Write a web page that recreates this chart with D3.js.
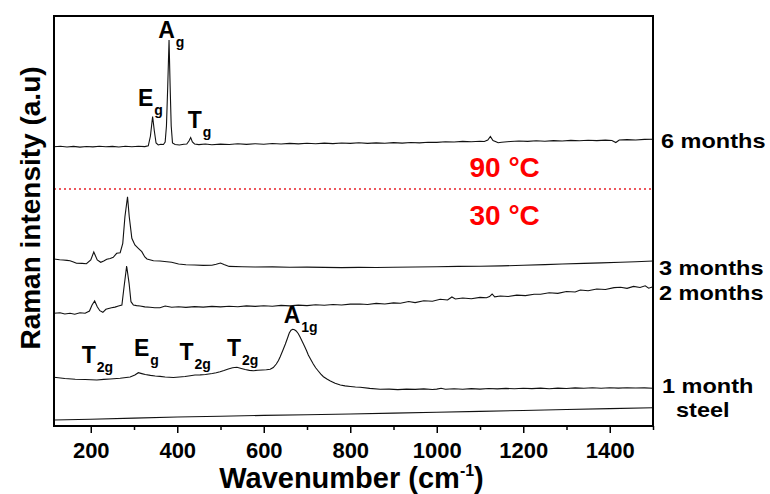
<!DOCTYPE html>
<html>
<head>
<meta charset="utf-8">
<script src="https://cdn.jsdelivr.net/npm/d3@7"></script>
<style>
body { margin: 0; background: #fff; }
text { font-family: "Liberation Sans", Arial, sans-serif; font-weight: bold; }
.line { fill: none; stroke: #111; stroke-width: 1.1; }
</style>
</head>
<body>
<div id="chart"></div>
<script>
// spectra, [wavenumber, intensity (a.u., stacked offsets)]
var sixMonths = [[115,279.3],[130,279.8],[145,279.0],[160,279.6],[175,278.9],[190,279.5],[205,279.1],[220,279.8],[235,279.2],[250,279.6],[265,279.0],[280,279.7],[295,279.3],[310,279.8],[325,279.4],[333,280.2],[338,290],[343,309.5],[347,295],[351,283],[356,281],[362,281.8],[368,281.5],[372,284],[375,300],[378,340],[381,386],[383.5,340],[386,300],[389,283],[395,281.5],[405,281.0],[415,281.8],[422,282],[427,285],[431,288.5],[435,284],[440,282],[450,281.4],[465,282.0],[480,281.3],[500,281.9],[520,281.5],[540,282.2],[560,281.6],[580,282.3],[600,281.8],[620,282.5],[640,282.0],[660,282.6],[680,282.1],[700,282.7],[720,282.2],[740,282.9],[760,282.4],[780,283.0],[800,282.6],[820,283.2],[840,282.6],[860,283.1],[880,282.7],[900,283.4],[920,282.9],[940,283.5],[960,283.1],[980,283.8],[1000,283.6],[1020,284.3],[1040,284.0],[1060,284.6],[1080,284.3],[1100,284.8],[1110,284.5],[1118,286],[1124,289.5],[1130,285.5],[1137,284.2],[1142,283.2],[1150,283.8],[1170,284.5],[1190,285.0],[1210,284.6],[1230,285.2],[1250,284.8],[1270,285.4],[1290,285.0],[1310,285.6],[1330,285.2],[1350,285.8],[1370,285.4],[1390,285.9],[1405,285.5],[1414,283.5],[1422,286.0],[1440,286.4],[1460,286.0],[1480,286.6],[1500,286.7]];

var threeMonths = [[115,167],[128,166.3],[136,166],[145,165.6],[152,165.3],[160,164],[167,162.7],[180,162.6],[190,162.3],[200,166],[207,174],[215,166],[223,163.7],[230,165],[237,166.7],[245,167.5],[252,168.7],[260,172.7],[268,173.3],[274,182.7],[279,209.3],[285,229.3],[289,209.3],[295,187.7],[302,181],[310,177.7],[318,174.3],[325,169],[330,167],[345,165.3],[360,165],[376,164.3],[387,163.7],[403,162],[420,161.2],[440,161],[460,160.6],[480,160.8],[490,161.8],[500,163],[508,161.5],[520,159.6],[550,159.3],[580,159],[620,159.1],[660,158.8],[700,158.9],[740,158.6],[780,158.4],[820,158.6],[860,158.5],[900,158.7],[950,159],[1000,159.3],[1050,159.6],[1100,159.8],[1150,160.1],[1200,160.8],[1250,161.4],[1290,162],[1340,162.6],[1380,163.1],[1425,163.7],[1460,164.3],[1500,165]];

var twoMonths = [[115,112.7],[129,113.3],[140,112],[152,112.7],[163,111.7],[175,113.3],[187,112.7],[197,115],[203,121],[209,125],[215,119.3],[221,115.3],[228,113.7],[235,116.7],[248,118.3],[256,118.9],[264,120],[272,121],[277,139.3],[283,160],[288.6,142.7],[293,124.3],[298.6,121],[306,120.4],[314,120],[325,119.1],[337,118.7],[348,118.2],[360,118.3],[372,120],[387,118.7],[403,119.3],[420,118.6],[440,119.4],[460,118.9],[480,119.6],[500,119.1],[520,119.8],[540,119.2],[560,120.1],[580,119.6],[600,120.3],[620,119.8],[640,120.6],[660,120.1],[680,120.9],[700,120.4],[720,121.2],[740,120.7],[760,121.5],[780,121],[800,121.9],[823,122],[840,121.5],[860,122.6],[880,122],[900,123.1],[916,122.7],[935,124.5],[950,123.4],[970,125.3],[990,124.8],[1008,126.7],[1025,126],[1035,129],[1043,127],[1060,128],[1080,127.3],[1100,128.6],[1115,128.2],[1122,129.4],[1128,132],[1134,129.2],[1147,130],[1165,129.5],[1185,130.9],[1205,130.4],[1225,131.8],[1240,131.7],[1260,133.2],[1280,132.6],[1300,134.5],[1320,134],[1332,136],[1350,135.2],[1370,137],[1390,136.5],[1410,138.4],[1425,138.7],[1440,137.6],[1455,139.6],[1470,138.5],[1482,140.2],[1490,137.8],[1500,139.3]];

var oneMonth = [[115,48.7],[140,47.5],[164,46.7],[187,46.5],[214,46],[230,46.6],[245,47],[268,47.7],[291,49],[302,51],[310,53.3],[318,52.4],[326,51.5],[338,50.6],[349,50],[360,49.6],[372,49],[391,48.5],[405,49],[418,49.5],[430,50.3],[441,51],[453,51.1],[465,51.5],[481,52.5],[490,53.2],[499,54.3],[508,55.5],[518,57],[528,58.3],[538,58.7],[548,57.5],[557,56.5],[567,55.6],[576,55.3],[586,55.7],[597,56],[606,56.3],[615,56.7],[622,58.5],[629,62],[634,65.5],[638,69.3],[644,75.5],[650,82],[655,88],[659,93],[663,95.8],[667,96.7],[671,96.3],[675,95],[680,92.3],[684,89],[689,84.6],[694,80],[699,75.3],[703,71],[709,66.2],[714.5,62],[720,58.2],[726,55],[732,51.8],[738,49.3],[746,47],[754,45],[765,42.8],[777,41],[788,40.1],[800,39.5],[812,39],[823,38.7],[845,37.6],[869,36.7],[890,36.9],[910,36.4],[930,36.9],[950,36.6],[970,37.1],[990,36.5],[1000,36.9],[1010,37.8],[1020,36.7],[1040,37.2],[1060,36.8],[1080,37.4],[1100,36.9],[1120,37.5],[1140,37.1],[1160,37.6],[1180,37.2],[1200,37.8],[1220,37.4],[1240,37.9],[1260,37.3],[1280,37.9],[1300,37.5],[1320,38.1],[1340,37.7],[1360,38.2],[1380,37.8],[1400,38.3],[1420,37.9],[1440,38.3],[1460,38],[1480,38.1],[1500,37.7]];

var steel = [[115,6],[200,6.8],[300,7.9],[400,9],[500,9.8],[600,10.6],[700,11.3],[800,12],[900,12.9],[1000,13.8],[1100,14.6],[1200,15.5],[1300,16.5],[1400,17.4],[1500,18.3]];

var series = [sixMonths, threeMonths, twoMonths, oneMonth, steel];

// right-hand sample labels: text, x offset from frame, intensity of baseline
var seriesNames = ["6 months", "3 months", "2 months", "1 month", "steel"];
var nameOffsets = [8, 6, 6, 9, 23];
var nameLevels = [278, 151, 126, 33, 9];

// Raman band labels: [main, subscript, wavenumber, intensity]
var bands = [["A", "g", 356, 388], ["E", "g", 309, 320], ["T", "g", 424, 298.3],
             ["T", "2g", 179, 62.7], ["E", "g", 300, 70], ["T", "2g", 405, 66],
             ["T", "2g", 515, 70], ["A", "1g", 646, 102.7]];

// temperature divider
var dividerLevel = 237;
var tempLabels = [["90 °C", 1157, 249], ["30 °C", 1157, 201]];

var majorTicks = [200, 400, 600, 800, 1000, 1200, 1400];
var minorTicks = [300, 500, 700, 900, 1100, 1300, 1500];

var margin = {top: 16, right: 117, bottom: 68, left: 54},
    width = 770 - margin.left - margin.right,
    height = 494 - margin.top - margin.bottom;

var x = d3.scaleLinear()
    .domain([115, 1500])
    .range([0, width]);

var y = d3.scaleLinear()
    .domain([0, 410])
    .range([height, 0]);

var svg = d3.select("#chart").append("svg")
    .attr("width", width + margin.left + margin.right)
    .attr("height", height + margin.top + margin.bottom)
  .append("g")
    .attr("transform", "translate(" + margin.left + "," + margin.top + ")");

var line = d3.line()
    .x(function(d) { return x(d[0]); })
    .y(function(d) { return y(d[1]); });

svg.selectAll(".line")
    .data(series)
  .enter().append("path")
    .attr("class", "line")
    .attr("d", line);

// red dotted divider
svg.append("line")
    .attr("x1", 0)
    .attr("x2", width)
    .attr("y1", y(dividerLevel))
    .attr("y2", y(dividerLevel))
    .attr("stroke", "#e8202a")
    .attr("stroke-width", 1.3)
    .attr("stroke-dasharray", "2,3");

svg.selectAll(".temp")
    .data(tempLabels)
  .enter().append("text")
    .attr("class", "temp")
    .attr("x", function(d) { return x(d[1]); })
    .attr("y", function(d) { return y(d[2]); })
    .attr("text-anchor", "middle")
    .attr("fill", "#ff0000")
    .style("font-size", "28px")
    .text(function(d) { return d[0]; });

// band labels
var band = svg.selectAll(".band")
    .data(bands)
  .enter().append("text")
    .attr("class", "band")
    .attr("x", function(d) { return x(d[2]); })
    .attr("y", function(d) { return y(d[3]); })
    .style("font-size", "23px");
band.append("tspan").text(function(d) { return d[0]; });
band.append("tspan")
    .attr("dy", 9)
    .attr("dx", 1)
    .style("font-size", "14px")
    .text(function(d) { return d[1]; });

// frame
svg.append("rect")
    .attr("width", width)
    .attr("height", height)
    .attr("fill", "none")
    .attr("stroke", "#000")
    .attr("stroke-width", 2);

var xAxis = d3.axisBottom(x)
    .tickValues(majorTicks)
    .tickSize(7)
    .tickFormat(d3.format("d"));

var gx = svg.append("g")
    .attr("class", "x axis")
    .attr("transform", "translate(0," + height + ")")
    .call(xAxis);
gx.select(".domain").remove();
gx.selectAll("line").attr("stroke-width", 1.5);
gx.selectAll("text")
    .attr("y", 16)
    .attr("dy", "0.71em")
    .attr("fill", "#000")
    .style("font-size", "22px");

var gxm = svg.append("g")
    .attr("transform", "translate(0," + height + ")")
    .call(d3.axisBottom(x).tickValues(minorTicks).tickSize(4).tickFormat(""));
gxm.select(".domain").remove();
gxm.selectAll("line").attr("stroke-width", 1.5);

// series names on the right (slightly widened glyphs, as in the original)
svg.selectAll(".name")
    .data(seriesNames)
  .enter().append("text")
    .attr("class", "name")
    .attr("transform", function(d, i) {
      return "translate(" + (width + nameOffsets[i]) + "," + y(nameLevels[i]) + ") scale(1.12,1)";
    })
    .style("font-size", "21px")
    .text(function(d) { return d; });

// axis titles
var xt = svg.append("text")
    .attr("x", width / 2 - 2)
    .attr("y", height + 62)
    .attr("text-anchor", "middle")
    .style("font-size", "29px");
xt.append("tspan").text("Wavenumber (cm");
xt.append("tspan").attr("dy", -12).style("font-size", "16px").text("-1");
xt.append("tspan").attr("dy", 12).text(")");

svg.append("text")
    .attr("transform", "rotate(-90)")
    .attr("x", -192)
    .attr("y", -14)
    .attr("text-anchor", "middle")
    .style("font-size", "28px")
    .text("Raman intensity (a.u)");
</script>
</body>
</html>
